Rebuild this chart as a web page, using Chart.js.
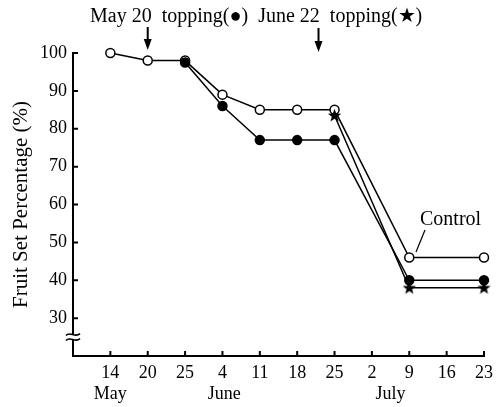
<!DOCTYPE html>
<html>
<head>
<meta charset="utf-8">
<script src="https://cdn.jsdelivr.net/npm/chart.js@4.4.1/dist/chart.umd.min.js"></script>
<style>
  html, body { margin: 0; padding: 0; background: #fff; }
  #wrap { width: 499px; height: 407px; }
</style>
</head>
<body>
<div id="wrap"><canvas id="fruitChart" width="499" height="407"></canvas></div>
<script>
// sampling dates (evenly spaced on the axis)
const dayLabels = ['14', '20', '25', '4', '11', '18', '25', '2', '9', '16', '23'];
const yTicks = [30, 40, 50, 60, 70, 80, 90, 100];

// fruit set percentage (%)
const controlValues = [100, 98, 98, 89, 85, 85, 85, null, 46, null, 46];
const mayToppingValues = [null, null, 97.5, 86, 77, 77, 77, null, 40, null, 40];
const juneToppingValues = [null, null, null, null, null, null, 83.5, null, 38, null, 38];

const serif = "'Liberation Serif', 'DejaVu Serif', serif";

function toPoints(values) {
  return values.map((v, i) => ({ x: i + 1, y: v })).filter(p => p.y !== null);
}

// filled star marker
const starImg = document.createElement('canvas');
starImg.width = 15; starImg.height = 15;
(function () {
  const c = starImg.getContext('2d');
  c.beginPath();
  for (let i = 0; i < 10; i++) {
    const r = i % 2 === 0 ? 7 : 2.9;
    const a = -Math.PI / 2 + i * Math.PI / 5;
    const px = 7.5 + r * Math.cos(a), py = 7.8 + r * Math.sin(a);
    if (i === 0) c.moveTo(px, py); else c.lineTo(px, py);
  }
  c.closePath();
  c.fillStyle = '#000';
  c.fill();
})();

const extras = {
  id: 'extras',
  afterDraw(chart) {
    const ctx = chart.ctx;
    const xs = chart.scales.x, ys = chart.scales.y;
    const left = chart.chartArea.left, bottom = chart.chartArea.bottom;
    ctx.save();
    ctx.strokeStyle = '#000';
    ctx.fillStyle = '#000';
    ctx.lineWidth = 2;

    // inward ticks
    ctx.beginPath();
    yTicks.forEach(v => {
      const y = ys.getPixelForValue(v);
      ctx.moveTo(left, y); ctx.lineTo(left + 5, y);
    });
    dayLabels.forEach((d, i) => {
      const x = xs.getPixelForValue(i + 1);
      ctx.moveTo(x, bottom); ctx.lineTo(x, bottom - 5);
    });
    ctx.stroke();

    // axis break
    const yb = ys.getPixelForValue(25);
    ctx.fillStyle = '#fff';
    ctx.fillRect(left - 2, yb - 3, 4, 6);
    ctx.fillStyle = '#000';
    ctx.lineWidth = 1.6;
    [-2.5, 2.5].forEach(dy => {
      ctx.beginPath();
      ctx.moveTo(left - 7, yb + dy + 1);
      ctx.bezierCurveTo(left - 3, yb + dy - 4, left + 2, yb + dy + 4, left + 7, yb + dy - 1);
      ctx.stroke();
    });

    // month labels
    ctx.font = '18px ' + serif;
    ctx.textAlign = 'center';
    ctx.textBaseline = 'middle';
    ctx.fillText('May', xs.getPixelForValue(1), 394);
    ctx.fillText('June', xs.getPixelForValue(4.05), 394);
    ctx.fillText('July', xs.getPixelForValue(8.5), 394);

    // topping header and arrows
    ctx.font = '20px ' + serif;
    ctx.textAlign = 'left';
    ctx.textBaseline = 'alphabetic';
    ctx.fillText('May 20  topping(\u25CF)  June 22  topping(\u2605)', 90, 22);
    [[2, 27, 50], [6.571, 28, 52]].forEach(([v, y0, y1]) => {
      const x = xs.getPixelForValue(v);
      ctx.lineWidth = 2;
      ctx.beginPath();
      ctx.moveTo(x, y0); ctx.lineTo(x, y1 - 8);
      ctx.stroke();
      ctx.beginPath();
      ctx.moveTo(x - 4, y1 - 11); ctx.lineTo(x + 4, y1 - 11); ctx.lineTo(x, y1);
      ctx.closePath();
      ctx.fill();
    });

    // control annotation
    ctx.font = '20px ' + serif;
    ctx.textAlign = 'left';
    ctx.textBaseline = 'middle';
    ctx.fillText('Control', 420, 220);
    ctx.lineWidth = 1.2;
    ctx.beginPath();
    ctx.moveTo(425, 230); ctx.lineTo(416, 252);
    ctx.stroke();
    ctx.restore();
  }
};

const ctx = document.getElementById('fruitChart').getContext('2d');

const fruitChart = new Chart(ctx, {
  type: 'line',
  data: {
    datasets: [{
      label: 'June 22 topping',
      data: toPoints(juneToppingValues),
      borderColor: '#000',
      borderWidth: 1.5,
      pointStyle: starImg,
      order: 0
    }, {
      label: 'May 20 topping',
      data: toPoints(mayToppingValues),
      borderColor: '#000',
      borderWidth: 1.5,
      pointStyle: 'circle',
      pointRadius: 4.5,
      pointBackgroundColor: '#000',
      pointBorderColor: '#000',
      order: 1
    }, {
      label: 'Control',
      data: toPoints(controlValues),
      borderColor: '#000',
      borderWidth: 1.5,
      pointStyle: 'circle',
      pointRadius: 4.5,
      pointBorderWidth: 1.5,
      pointBackgroundColor: '#fff',
      pointBorderColor: '#000',
      order: 2
    }]
  },
  options: {
    responsive: false,
    animation: false,
    clip: false,
    layout: { padding: { top: 53, right: 11, left: 0, bottom: 0 } },
    plugins: {
      legend: { display: false },
      tooltip: { enabled: false }
    },
    scales: {
      x: {
        type: 'linear',
        min: 0,
        max: 11,
        afterBuildTicks: s => { s.ticks = dayLabels.map((d, i) => ({ value: i + 1 })); },
        afterFit: s => { s.height = 51; },
        grid: { display: false, drawTicks: false },
        border: { display: true, color: '#000', width: 2 },
        ticks: {
          padding: 6,
          maxRotation: 0,
          autoSkip: false,
          color: '#000',
          font: { family: serif, size: 18 },
          callback: v => dayLabels[v - 1]
        }
      },
      y: {
        min: 20,
        max: 100,
        afterBuildTicks: s => { s.ticks = yTicks.map(v => ({ value: v })); },
        afterFit: s => { s.width = 73; },
        grid: { display: false, drawTicks: false },
        border: { display: true, color: '#000', width: 2 },
        ticks: {
          padding: 6,
          color: '#000',
          font: { family: serif, size: 18 }
        },
        title: {
          display: true,
          text: 'Fruit Set Percentage (%)',
          color: '#000',
          font: { family: serif, size: 21 },
          padding: { top: 9 }
        }
      }
    }
  },
  plugins: [extras]
});
</script>
</body>
</html>
